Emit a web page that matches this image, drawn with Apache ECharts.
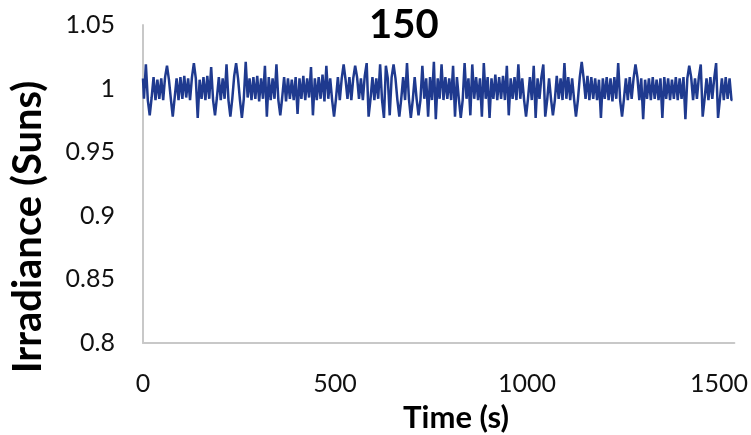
<!DOCTYPE html>
<html>
<head>
<meta charset="utf-8">
<script src="https://cdn.jsdelivr.net/npm/echarts@6/dist/echarts.min.js"></script>
<style>
  html, body { margin: 0; padding: 0; background: #fff; }
  #chart { width: 751px; height: 435px; }
</style>
</head>
<body>
<div id="chart"></div>
<script>
// sampling step of the recorded irradiance (s)
const sampleStep = 5;
const xTicks = [0, 500, 1000, 1500];
const yTicks = [0.8, 0.85, 0.9, 0.95, 1, 1.05];
// irradiance readings (Suns), one every 5 s
const irradiance = [
  1.008, 0.992, 1.019, 0.991, 0.979, 0.993, 1.009, 0.991, 1.007, 0.992,
  1.008, 0.991, 1.009, 1.018, 1.007, 0.992, 0.978, 0.993, 1.008, 0.991,
  1.009, 0.992, 1.010, 0.993, 1.008, 0.991, 1.009, 1.020, 1.008, 0.977,
  1.007, 0.992, 1.009, 0.991, 1.010, 0.992, 1.017, 0.991, 0.979, 0.993,
  1.009, 0.991, 1.008, 0.992, 1.019, 0.991, 0.978, 0.992, 1.010, 1.020,
  1.008, 0.991, 0.977, 0.992, 1.021, 0.993, 1.008, 0.991, 1.009, 0.992,
  1.010, 0.990, 1.008, 0.992, 1.018, 0.978, 1.009, 0.991, 1.008, 0.992,
  1.019, 0.991, 0.979, 0.993, 1.009, 0.990, 1.008, 0.992, 1.007, 0.991,
  1.009, 0.980, 1.008, 0.992, 1.010, 0.991, 1.008, 0.993, 1.017, 0.979,
  1.008, 0.991, 1.009, 0.992, 1.011, 0.990, 1.018, 0.992, 1.008, 0.991,
  0.978, 0.992, 1.009, 0.991, 1.008, 1.019, 1.007, 0.992, 1.009, 0.991,
  1.008, 1.018, 1.009, 0.992, 1.008, 0.991, 1.010, 1.020, 0.978, 0.992,
  1.009, 0.991, 1.008, 0.992, 1.019, 0.991, 0.977, 1.018, 1.008, 0.979,
  1.009, 1.019, 1.008, 0.991, 0.978, 0.992, 1.009, 0.991, 1.020, 0.992,
  0.977, 0.991, 1.009, 0.992, 0.979, 0.991, 1.018, 0.992, 1.008, 0.978,
  1.009, 0.991, 1.021, 0.976, 1.008, 0.992, 1.019, 0.991, 1.009, 0.992,
  1.008, 0.991, 1.018, 0.978, 1.009, 0.992, 0.977, 0.991, 1.020, 0.992,
  1.008, 0.979, 1.019, 0.992, 1.009, 0.991, 1.008, 0.978, 1.020, 0.992,
  1.009, 0.977, 1.008, 0.992, 1.011, 0.991, 1.009, 0.992, 1.010, 0.991,
  1.018, 0.979, 1.008, 0.992, 1.009, 0.991, 1.019, 0.992, 1.008, 0.991,
  0.978, 0.992, 1.009, 0.991, 1.018, 0.977, 1.008, 0.992, 1.009, 1.019,
  0.978, 0.991, 1.008, 0.992, 0.979, 0.991, 1.010, 0.992, 1.008, 0.991,
  1.020, 0.992, 1.009, 0.991, 1.008, 0.992, 0.978, 0.991, 1.009, 1.021,
  1.008, 0.992, 1.010, 0.991, 1.009, 0.992, 1.008, 0.991, 1.007, 0.977,
  1.008, 0.992, 1.009, 0.991, 1.008, 0.990, 1.009, 0.992, 1.020, 0.991,
  0.978, 0.992, 1.008, 0.991, 1.009, 0.992, 1.008, 1.019, 1.009, 0.991,
  1.008, 0.976, 1.007, 0.992, 1.008, 0.991, 1.009, 0.992, 1.007, 0.991,
  1.008, 0.977, 1.009, 0.992, 1.008, 0.991, 1.007, 0.992, 1.009, 0.991,
  1.008, 0.992, 1.009, 0.976, 1.008, 1.018, 1.009, 0.991, 1.008, 0.992,
  1.009, 1.019, 0.978, 0.992, 1.008, 0.991, 1.009, 0.992, 1.008, 1.020,
  0.977, 0.992, 1.008, 0.991, 1.009, 0.992, 1.008, 0.991
];

var seriesData = irradiance.map(function(v, i) {
  return [i * sampleStep, v];
});

var font = "Lato, 'DejaVu Sans', sans-serif";
var chart = echarts.init(document.getElementById("chart"));
chart.setOption({
  backgroundColor: "#fff",
  animation: false,
  title: {
    text: "150",
    left: 364,
    top: 0,
    textStyle: {
      fontFamily: font,
      fontWeight: "bold",
      fontSize: 40,
      color: "#000"
    }
  },
  grid: {
    left: 143,
    right: 12,
    top: 25,
    bottom: 92
  },
  // axis titles sit off-centre in the original, so they are placed by hand
  graphic: [
    {
      type: "text",
      x: 28,
      y: 227,
      rotation: Math.PI / 2,
      style: {
        text: "Irradiance (Suns)",
        font: "bold 40px " + font,
        fill: "#000",
        align: "center",
        verticalAlign: "middle"
      }
    },
    {
      type: "text",
      x: 456,
      y: 418,
      style: {
        text: "Time (s)",
        font: "bold 31px " + font,
        fill: "#000",
        align: "center",
        verticalAlign: "middle"
      }
    }
  ],
  xAxis: {
    type: "value",
    min: 0,
    max: 1540,
    interval: 500,
    axisLine: { show: true, lineStyle: { color: "#c8c8c8", width: 2 } },
    axisTick: { show: false },
    splitLine: { show: false },
    axisLabel: {
      margin: 28,
      fontFamily: font,
      fontSize: 25,
      color: "#111",
      formatter: function(v) {
        return xTicks.indexOf(v) >= 0 ? String(v) : "";
      }
    }
  },
  yAxis: {
    type: "value",
    min: 0.8,
    max: 1.05,
    interval: 0.05,
    axisLine: { show: true, lineStyle: { color: "#c8c8c8", width: 2 } },
    axisTick: { show: false },
    splitLine: { show: false },
    axisLabel: {
      margin: 28,
      fontFamily: font,
      fontSize: 25,
      color: "#111",
      formatter: function(v) {
        var r = +v.toFixed(2);
        return yTicks.indexOf(r) >= 0 ? String(r) : "";
      }
    }
  },
  series: [
    {
      type: "line",
      data: seriesData,
      step: "middle",
      showSymbol: false,
      lineStyle: { color: "#1f3a8f", width: 2.5 }
    }
  ]
});
</script>
</body>
</html>
